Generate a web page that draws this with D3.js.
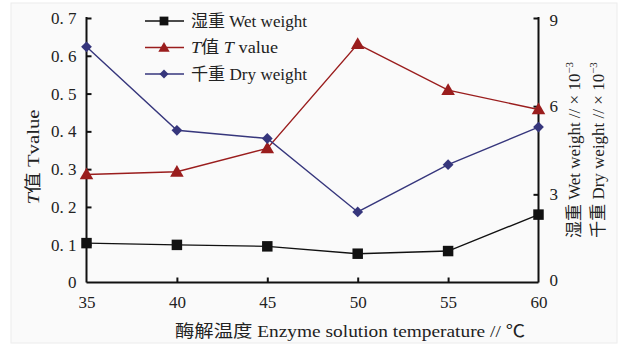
<!DOCTYPE html>
<html><head><meta charset="utf-8">
<script src="https://cdn.jsdelivr.net/npm/d3@7/dist/d3.min.js"></script>
<style>body{margin:0;background:#fff}svg{display:block}text{font-family:"Liberation Serif","Noto Sans CJK SC",serif;fill:#222}</style>
</head><body><svg id="c" width="625" height="345"></svg>
<script>
const temps = [35, 40, 45, 50, 55, 60];
const wetWeight = [1.34, 1.28, 1.23, 0.98, 1.07, 2.31];   // ×10^-3, right axis
const tValue = [0.286, 0.293, 0.355, 0.631, 0.509, 0.458]; // left axis
const dryWeight = [8.02, 5.18, 4.90, 2.40, 4.01, 5.29];    // ×10^-3, right axis
const leftTicks = [0, 0.1, 0.2, 0.3, 0.4, 0.5, 0.6, 0.7];
const leftTickLabels = ["0", "0. 1", "0. 2", "0. 3", "0. 4", "0. 5", "0. 6", "0. 7"];
const rightTicks = [0, 3, 6, 9];
const xTicks = [35, 40, 45, 50, 55, 60];

const svg = d3.select("#c");
svg.append("rect").attr("x", 11).attr("y", 3).attr("width", 606).attr("height", 340)
  .attr("fill", "#fafafa").attr("stroke", "#ececec");

const x = d3.scaleLinear().domain([35, 60]).range([86.5, 538.5]);
const yL = d3.scaleLinear().domain([0, 0.7]).range([282.5, 18]);
const yR = d3.scaleLinear().domain([0, 9]).range([282.5, 18]);

const g = svg.append("g");
const axL = d3.axisLeft(yL).tickValues(leftTicks).tickSize(-5).tickFormat((d, i) => leftTickLabels[i]).tickPadding(10);
const gl = g.append("g").attr("transform", "translate(86.5,0)").call(axL);
const axR = d3.axisRight(yR).tickValues(rightTicks).tickSize(-5).tickFormat(d3.format("d")).tickPadding(11);
const gr = g.append("g").attr("transform", "translate(538.5,0)").call(axR);
const axB = d3.axisBottom(x).tickValues(xTicks).tickSize(-5).tickFormat(d3.format("d")).tickPadding(10);
const gb = g.append("g").attr("transform", "translate(0,282.5)").call(axB);
[gl, gr, gb].forEach(a => {
  a.select(".domain").attr("stroke", "#111").attr("stroke-width", 2);
  a.selectAll(".tick line").attr("stroke", "#111").attr("stroke-width", 2);
  a.selectAll(".tick text").attr("font-size", 17).attr("fill", "#333")
    .attr("font-family", "'Liberation Serif',serif");
});
gl.select(".domain").attr("d", "M0,17V282.5");
gr.select(".domain").attr("d", "M0,17V282.5");
gb.select(".domain").attr("d", "M86.5,0H538.5");
gb.selectAll(".tick text").attr("dy", "0.9em");
gb.selectAll(".tick line").filter(d => d === 35 || d === 60).remove();
gl.selectAll(".tick line").filter(d => d === 0).remove();
gr.selectAll(".tick line").filter(d => d === 0).remove();
gr.selectAll(".tick text").filter(d => d === 9).attr("dy", "0.45em");
gr.selectAll(".tick text").filter(d => d === 0).attr("dy", "0.2em");

const series = [
  {name: "wet", vals: wetWeight, y: yR, color: "#111", marker: "square", size: 110, rot: 0},
  {name: "t", vals: tValue, y: yL, color: "#9a1d1d", marker: "triangle", size: 80, rot: 0},
  {name: "dry", vals: dryWeight, y: yR, color: "#36367c", marker: "square", size: 58, rot: 45}
];
const symMap = {square: d3.symbolSquare, triangle: d3.symbolTriangle};
series.forEach(s => {
  const line = d3.line().x((d, i) => x(temps[i])).y(d => s.y(d));
  g.append("path").attr("d", line(s.vals)).attr("fill", "none").attr("stroke", s.color).attr("stroke-width", 1.4);
  g.selectAll(null).data(s.vals).enter().append("path")
    .attr("d", d3.symbol().type(symMap[s.marker]).size(s.size))
    .attr("transform", (d, i) => `translate(${x(temps[i])},${s.y(d) + (s.marker === "triangle" ? 1 : 0)}) rotate(${s.rot})`)
    .attr("fill", s.color);
});

// legend
const leg = svg.append("g");
const legRows = [
  {s: series[0], parts: [["湿重 Wet weight", false]]},
  {s: series[1], parts: [["T", true], ["值 ", false], ["T", true], [" value", false]]},
  {s: series[2], parts: [["千重 Dry weight", false]]}
];
legRows.forEach((r, i) => {
  const yy = 21 + i * 26.5;
  leg.append("line").attr("x1", 145).attr("x2", 184).attr("y1", yy).attr("y2", yy).attr("stroke", r.s.color).attr("stroke-width", 1.6);
  leg.append("path").attr("d", d3.symbol().type(symMap[r.s.marker]).size(r.s.size * 0.7)())
    .attr("transform", `translate(164,${yy + (r.s.marker === "triangle" ? 1 : 0)}) rotate(${r.s.rot})`).attr("fill", r.s.color);
  const t = leg.append("text").attr("x", 191).attr("y", yy + 5.5).attr("font-size", 16.5).attr("fill", "#333");
  r.parts.forEach(p => t.append("tspan").text(p[0]).attr("font-style", p[1] ? "italic" : null));
});
leg.selectAll("text").filter((d, i) => i !== 1).attr("textLength", 116).attr("lengthAdjust", "spacingAndGlyphs");
leg.selectAll("text").filter((d, i) => i === 1).attr("textLength", 87).attr("lengthAdjust", "spacingAndGlyphs");

// left axis title
const lt = svg.append("text").attr("transform", "translate(39,157) rotate(-90)").attr("text-anchor", "middle")
  .attr("font-size", 17).attr("fill", "#333").attr("textLength", 95).attr("lengthAdjust", "spacingAndGlyphs");
lt.append("tspan").text("T").attr("font-style", "italic");
lt.append("tspan").text("值 Tvalue");

// right axis titles
function rightTitle(xp, label) {
  const t = svg.append("text").attr("transform", `translate(${xp},150) rotate(-90)`).attr("text-anchor", "middle")
    .attr("font-size", 17).attr("fill", "#333");
  t.append("tspan").text(label + " // × 10");
  t.append("tspan").text("−3").attr("font-size", 11).attr("dy", -7);
}
rightTitle(580, "湿重 Wet weight");
rightTitle(604, "千重 Dry weight");

// x title
svg.append("text").attr("x", 175).attr("y", 337).attr("font-size", 17).attr("fill", "#333")
  .attr("textLength", 350).attr("lengthAdjust", "spacingAndGlyphs")
  .text("酶解温度 Enzyme solution temperature // ℃");
</script></body></html>
